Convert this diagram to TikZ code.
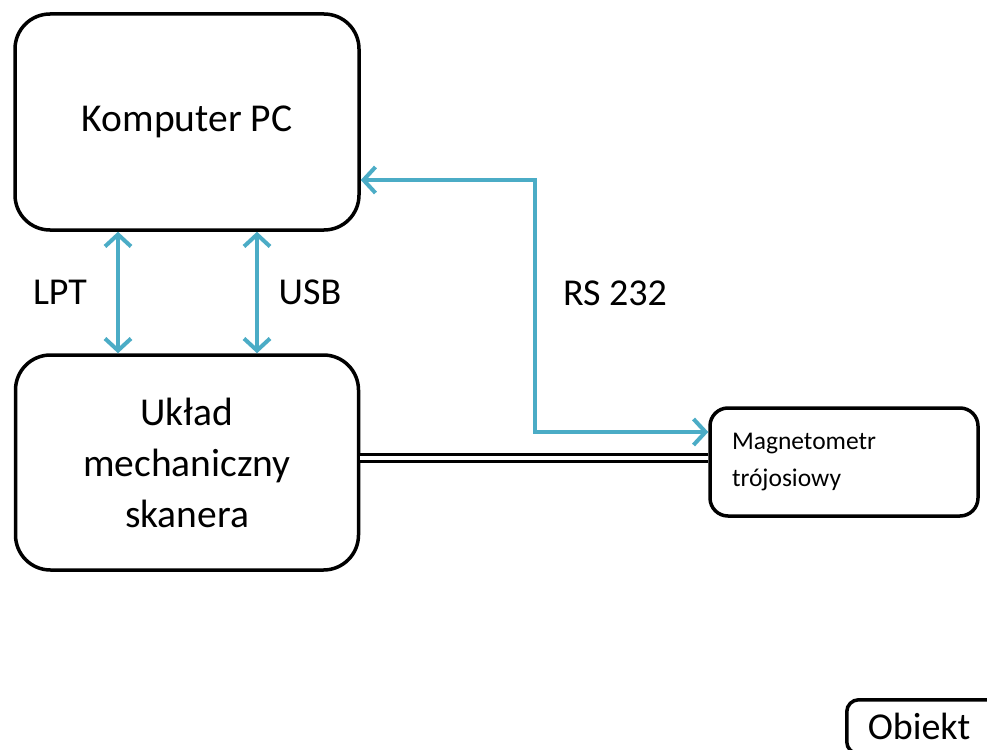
\documentclass[tikz,border=0pt]{standalone}
\usepackage{fontspec}
\setmainfont{Carlito}
\usetikzlibrary{arrows.meta}
\definecolor{teal1}{RGB}{75,172,198}
\begin{document}
\begin{tikzpicture}[x=1pt,y=-1pt,
  box/.style={draw=black, line width=3.5pt, fill=white, inner sep=0pt},
  arr/.style={draw=teal1, line width=4pt, {Straight Barb[length=12pt,width=26pt,line width=4pt]}-{Straight Barb[length=12pt,width=26pt,line width=4pt]}},
  lbl/.style={font=\fontsize{38}{42}\selectfont},
  big/.style={font=\fontsize{39.5}{51}\selectfont}]
\useasboundingbox (0,0) rectangle (987,749);
\clip (0,0) rectangle (987,749);
\node[box, rounded corners=35pt, minimum width=344pt, minimum height=216pt, big] (pc) at (187,122) {Komputer PC};
\node[box, rounded corners=35pt, minimum width=343pt, minimum height=215pt, big, align=center] (sk) at (187,462.5) {Układ\\mechaniczny\\skanera};
\node[box, rounded corners=18pt, minimum width=268pt, minimum height=108pt, text width=224pt, align=left, inner xsep=22pt, font=\fontsize{25.5}{37}\selectfont] (mag) at (844,462) {Magnetometr\\trójosiowy};
\node[box, rounded corners=12pt, anchor=north west, minimum height=54pt, text width=140pt, align=left, inner xsep=21pt, font=\fontsize{38}{44}\selectfont] (ob) at (845,698) {Obiekt};
\coordinate (lx) at (118,0);
\coordinate (ux) at (257,0);
\draw[arr] (lx |- pc.south) -- (lx |- sk.north);
\draw[arr] (ux |- pc.south) -- (ux |- sk.north);
\node[lbl] (lpt) at (60,292) {LPT};
\node[lbl] (usb) at (310,292) {USB};
\coordinate (c1) at (535,180);
\coordinate (c2) at (535,432);
\draw[arr, line join=miter] (c1 -| pc.east) -- (c1) -- (c2) -- (c2 -| mag.west);
\node[lbl] (rs) at (615,293) {RS 232};
\coordinate (dl) at (0,458);
\draw[line width=3pt, double=white, double distance=4.5pt] (dl -| sk.east) -- (dl -| mag.west);
\end{tikzpicture}
\end{document}
